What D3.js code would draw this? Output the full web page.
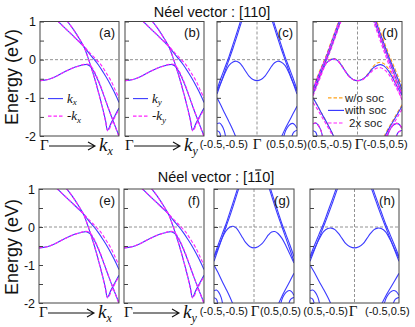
<!DOCTYPE html>
<html>
<head>
<meta charset="utf-8">
<script src="https://cdn.jsdelivr.net/npm/d3@7"></script>
<style>
body { margin: 0; background: #fff; }
svg { display: block; font-family: 'Liberation Sans', Arial, sans-serif; }
</style>
</head>
<body>
<div class="chart"></div>
<script>
// DATA ------------------------------

const energyTicks = [1, 0.5, 0, -0.5, -1, -1.5, -2];
const energyLabels = ['1', '', '0', '', '-1', '', '-2'];
const pathLabelsTop = [['(-0.5,-0.5)', 'Γ', '(0.5,0.5)'], ['(0.5,-0.5)', 'Γ', '(-0.5,0.5)']];
const pathLabelsBottom = [['(-0.5,-0.5)', 'Γ', '(0.5,0.5)'], ['(0.5,-0.5)', 'Γ', '(-0.5,0.5)']];
const legendAB = [['k', 'x'], ['-k', 'x'], ['k', 'y'], ['-k', 'y']];
const legendD = ['w/o soc', 'with soc', '2x soc'];

// Gamma -> k bands (k from 0 to 1), +k solid, -k dashed
const kBand1 = [[0.22,1.02],[0.3,0.86],[0.4,0.66],[0.5,0.46],[0.56,0.33],[0.62,0.17],[0.68,0.02],[0.74,-0.14],[0.8,-0.33],[0.87,-0.57],[0.94,-0.85],[1.0,-1.12]];
const kBand2 = [[0.34,1.02],[0.42,0.8],[0.5,0.54],[0.56,0.32],[0.6,0.1],[0.64,-0.15],[0.69,-0.48],[0.74,-0.85],[0.79,-1.25],[0.83,-1.6],[0.855,-1.85],[0.9,-1.66],[0.95,-1.46],[1.0,-1.27]];
const kBand3 = [[0,-0.55],[0.1,-0.52],[0.2,-0.44],[0.3,-0.33],[0.4,-0.23],[0.5,-0.16],[0.56,-0.13],[0.6,-0.13],[0.64,-0.18],[0.69,-0.34],[0.75,-0.62],[0.81,-0.95],[0.87,-1.3],[0.93,-1.63],[1.0,-2.0]];
const mkBand1 = [[0.22,1.02],[0.3,0.86],[0.4,0.66],[0.5,0.46],[0.56,0.34],[0.63,0.18],[0.7,0.03],[0.77,-0.13],[0.83,-0.32],[0.9,-0.56],[0.96,-0.83],[1.0,-1.0]];
const mkBand2 = [[0.34,1.02],[0.42,0.8],[0.5,0.54],[0.56,0.32],[0.6,0.1],[0.64,-0.15],[0.69,-0.48],[0.74,-0.86],[0.79,-1.26],[0.83,-1.62],[0.86,-1.87],[0.91,-1.66],[0.96,-1.45],[1.0,-1.3]];
const mkBand3 = [[0,-0.55],[0.1,-0.52],[0.2,-0.44],[0.3,-0.33],[0.4,-0.23],[0.5,-0.16],[0.56,-0.12],[0.61,-0.12],[0.65,-0.18],[0.7,-0.36],[0.76,-0.65],[0.82,-1.0],[0.88,-1.35],[0.94,-1.68],[1.0,-2.02]];

// (-0.5,-0.5) -> Gamma -> (0.5,0.5) bands
const cW = [[-0.5,-0.82],[-0.45,-0.6],[-0.4,-0.35],[-0.35,-0.15],[-0.3,-0.06],[-0.26,-0.04],[-0.22,-0.08],[-0.18,-0.18],[-0.14,-0.31],[-0.1,-0.43],[-0.05,-0.52],[0,-0.55],[0.05,-0.52],[0.1,-0.43],[0.14,-0.31],[0.18,-0.18],[0.22,-0.08],[0.26,-0.04],[0.3,-0.06],[0.35,-0.15],[0.4,-0.35],[0.45,-0.6],[0.5,-0.82]];
const gW = [[-0.5,-0.8],[-0.45,-0.56],[-0.4,-0.3],[-0.35,-0.1],[-0.3,0.0],[-0.26,0.02],[-0.22,-0.03],[-0.18,-0.15],[-0.14,-0.29],[-0.1,-0.42],[-0.05,-0.52],[0,-0.55],[0.05,-0.52],[0.1,-0.44],[0.14,-0.33],[0.18,-0.21],[0.22,-0.13],[0.26,-0.12],[0.3,-0.17],[0.35,-0.3],[0.4,-0.5],[0.45,-0.72],[0.5,-0.95]];
const hW = [[-0.5,-0.82],[-0.45,-0.58],[-0.4,-0.33],[-0.35,-0.13],[-0.3,-0.04],[-0.26,-0.03],[-0.22,-0.07],[-0.18,-0.17],[-0.14,-0.3],[-0.1,-0.43],[-0.05,-0.52],[0,-0.55],[0.05,-0.52],[0.1,-0.43],[0.14,-0.3],[0.18,-0.17],[0.22,-0.07],[0.26,-0.03],[0.3,-0.04],[0.35,-0.13],[0.4,-0.33],[0.45,-0.58],[0.5,-0.82]];
const cPL1 = [[-0.5,-0.78],[-0.45,-0.48],[-0.4,-0.2],[-0.35,0.08],[-0.3,0.4],[-0.25,0.72],[-0.2,1.05],[-0.17,1.25]];
const cPL2 = [[-0.5,-0.9],[-0.45,-0.6],[-0.4,-0.3],[-0.35,0.0],[-0.3,0.3],[-0.25,0.62],[-0.2,0.95],[-0.16,1.2]];
const cPR1 = [[0.17,1.25],[0.2,1.05],[0.25,0.72],[0.3,0.4],[0.35,0.08],[0.4,-0.2],[0.45,-0.48],[0.5,-0.78]];
const cPR2 = [[0.16,1.2],[0.2,0.95],[0.25,0.62],[0.3,0.3],[0.35,0.0],[0.4,-0.3],[0.45,-0.6],[0.5,-0.9]];
const cLL = [[-0.5,-1.0],[-0.45,-1.2],[-0.4,-1.42],[-0.35,-1.63],[-0.3,-1.85],[-0.26,-2.05]];
const cLR = [[0.5,-1.22],[0.45,-1.42],[0.4,-1.62],[0.35,-1.82],[0.3,-2.05]];
const cDL = [[-0.5,-1.68],[-0.47,-1.66],[-0.44,-1.72],[-0.41,-1.86],[-0.39,-2.05]];
const cDL2 = [[-0.5,-1.86],[-0.47,-1.9],[-0.45,-2.05]];
const cDR = [[0.33,-2.05],[0.36,-1.85],[0.4,-1.72],[0.44,-1.67],[0.47,-1.7],[0.5,-1.8]];
const cDR2 = [[0.43,-2.05],[0.46,-1.9],[0.5,-1.85]];

// panel (d): w/o soc, with soc, 2x soc
const dWOrange = [[-0.5,-0.78],[-0.45,-0.54],[-0.4,-0.28],[-0.35,-0.08],[-0.3,0.01],[-0.26,0.03],[-0.22,-0.02],[-0.18,-0.14],[-0.14,-0.29],[-0.1,-0.42],[-0.05,-0.52],[0,-0.55],[0.05,-0.52],[0.1,-0.42],[0.14,-0.3],[0.18,-0.17],[0.22,-0.09],[0.26,-0.07],[0.3,-0.11],[0.35,-0.24],[0.4,-0.43],[0.45,-0.63],[0.5,-0.82]];
const dWBlue = [[-0.5,-0.8],[-0.45,-0.55],[-0.4,-0.29],[-0.35,-0.09],[-0.3,0.0],[-0.26,0.02],[-0.22,-0.03],[-0.18,-0.15],[-0.14,-0.29],[-0.1,-0.42],[-0.05,-0.52],[0,-0.55],[0.05,-0.52],[0.1,-0.43],[0.14,-0.32],[0.18,-0.21],[0.22,-0.15],[0.26,-0.13],[0.3,-0.17],[0.35,-0.3],[0.4,-0.5],[0.45,-0.72],[0.5,-0.93]];
const dWMag = [[-0.5,-0.82],[-0.45,-0.57],[-0.4,-0.31],[-0.35,-0.1],[-0.3,-0.01],[-0.26,0.01],[-0.22,-0.04],[-0.18,-0.16],[-0.14,-0.3],[-0.1,-0.43],[-0.05,-0.52],[0,-0.55],[0.05,-0.53],[0.1,-0.45],[0.14,-0.36],[0.18,-0.27],[0.22,-0.22],[0.26,-0.21],[0.3,-0.26],[0.35,-0.38],[0.4,-0.58],[0.45,-0.8],[0.5,-1.03]];
const dPR1Or = [[0.18,1.25],[0.21,1.05],[0.26,0.72],[0.31,0.4],[0.36,0.1],[0.41,-0.18],[0.46,-0.46],[0.5,-0.7]];
const dPR2Or = [[0.17,1.2],[0.21,0.95],[0.26,0.63],[0.31,0.32],[0.36,0.02],[0.41,-0.27],[0.46,-0.57],[0.5,-0.82]];
const dPR1Mag = [[0.16,1.25],[0.19,1.05],[0.24,0.72],[0.29,0.38],[0.34,0.05],[0.39,-0.25],[0.44,-0.56],[0.5,-0.92]];
const dPR2Mag = [[0.15,1.2],[0.19,0.93],[0.24,0.6],[0.29,0.27],[0.34,-0.05],[0.39,-0.36],[0.44,-0.68],[0.5,-1.06]];
const dPL1Or = [[-0.5,-0.74],[-0.45,-0.44],[-0.4,-0.16],[-0.35,0.12],[-0.3,0.44],[-0.25,0.76],[-0.2,1.08],[-0.17,1.28]];
const dPL2Mag = [[-0.5,-0.95],[-0.45,-0.66],[-0.4,-0.36],[-0.35,-0.05],[-0.3,0.26],[-0.25,0.58],[-0.2,0.91],[-0.15,1.22]];
const dLLMag = [[-0.5,-1.12],[-0.45,-1.3],[-0.4,-1.5],[-0.35,-1.7],[-0.3,-1.9],[-0.27,-2.05]];
const dLRMag = [[0.5,-1.3],[0.45,-1.5],[0.4,-1.7],[0.35,-1.88],[0.31,-2.05]];
const dLROr = [[0.5,-1.18],[0.45,-1.38],[0.4,-1.58],[0.35,-1.78],[0.3,-2.0],[0.29,-2.05]];

// CHART INIT ------------------------------

const width = 415, height = 327;
const blue = '#3a3aff', magenta = '#ff22ff', orange = '#ffa31a';

let svg = d3
    .select('.chart')
    .append('svg')
    .attr('width', width)
    .attr('height', height);

const rows = [{ top: 21.5, bottom: 136 }, { top: 189, bottom: 303 }];

const kSolid = [kBand1, kBand2, kBand3];
const kDashed = [mkBand1, mkBand2, mkBand3];
const cRest = [cPL1, cPL2, cPR1, cPR2, cLL, cLR, cDL, cDL2, cDR, cDR2];

const panels = [
    { id: 'a', row: 0, x0: 40, x1: 119, domain: [0, 1], labels: true, legend: [legendAB[0], legendAB[1]],
      series: [{ bands: kSolid, color: blue }, { bands: kDashed, color: magenta, dash: '3.5,2' }] },
    { id: 'b', row: 0, x0: 125, x1: 204, domain: [0, 1], legend: [legendAB[2], legendAB[3]],
      series: [{ bands: kSolid, color: blue }, { bands: kDashed, color: magenta, dash: '3.5,2' }] },
    { id: 'c', row: 0, x0: 217, x1: 297, domain: [-0.5, 0.5],
      series: [{ bands: [cW].concat(cRest), color: blue }] },
    { id: 'd', row: 0, x0: 313, x1: 402, domain: [-0.5, 0.5],
      series: [
        { bands: [dWOrange, dPL1Or, cPL2, dPR1Or, dPR2Or, cLL, dLROr, cDL, cDR], color: orange, dash: '3.5,2' },
        { bands: [dWBlue].concat(cRest), color: blue },
        { bands: [dWMag, cPL1, dPL2Mag, dPR1Mag, dPR2Mag, dLLMag, dLRMag, cDL, cDR, cDR2], color: magenta, dash: '3.5,2' }
      ] },
    { id: 'e', row: 1, x0: 39, x1: 119, domain: [0, 1], labels: true,
      series: [{ bands: kSolid, color: blue }, { bands: kDashed, color: magenta, dash: '3.5,2' }] },
    { id: 'f', row: 1, x0: 124, x1: 204, domain: [0, 1],
      series: [{ bands: kSolid, color: blue }, { bands: kDashed, color: magenta, dash: '3.5,2' }] },
    { id: 'g', row: 1, x0: 214, x1: 294, domain: [-0.5, 0.5],
      series: [{ bands: [gW].concat(cRest), color: blue }] },
    { id: 'h', row: 1, x0: 310, x1: 399, domain: [-0.5, 0.5],
      series: [{ bands: [hW].concat(cRest), color: blue }] }
];

// PANEL DRAW FUNCTION -------------------
function drawPanel(p) {
    const r = rows[p.row];
    const yScale = d3.scaleLinear().domain([-2, 1]).range([r.bottom, r.top]);
    const xScale = d3.scaleLinear().domain(p.domain).range([p.x0, p.x1]);
    const g = svg.append('g').attr('class', 'panel-' + p.id);

    svg.append('clipPath')
        .attr('id', 'clip-' + p.id)
        .append('rect')
        .attr('x', p.x0)
        .attr('y', r.top)
        .attr('width', p.x1 - p.x0)
        .attr('height', r.bottom - r.top);

    // dashed guides
    g.append('line')
        .attr('x1', p.x0).attr('x2', p.x1)
        .attr('y1', yScale(0)).attr('y2', yScale(0))
        .attr('stroke', '#777').attr('stroke-width', 0.8)
        .attr('stroke-dasharray', '3,2');
    if (p.domain[0] < 0) {
        g.append('line')
            .attr('x1', xScale(0)).attr('x2', xScale(0))
            .attr('y1', r.top).attr('y2', r.bottom)
            .attr('stroke', '#777').attr('stroke-width', 0.8)
            .attr('stroke-dasharray', '3,2');
    }

    const line = d3.line()
        .x(d => xScale(d[0]))
        .y(d => yScale(d[1]))
        .curve(d3.curveCatmullRom.alpha(0.5));

    const plot = g.append('g').attr('clip-path', `url(#clip-${p.id})`);
    p.series.forEach(s => {
        plot.selectAll(null)
            .data(s.bands)
            .enter()
            .append('path')
            .attr('d', line)
            .attr('fill', 'none')
            .attr('stroke', s.color)
            .attr('stroke-width', 1.1)
            .attr('stroke-dasharray', s.dash || null);
    });

    // energy axis, ticks pointing inside
    const yAxis = d3.axisLeft(yScale)
        .tickValues(energyTicks)
        .tickSize(-4)
        .tickPadding(4)
        .tickFormat((d, i) => p.labels ? energyLabels[i] : '');
    const ax = g.append('g')
        .attr('transform', `translate(${p.x0},0)`)
        .call(yAxis);
    ax.select('.domain').remove();
    ax.selectAll('line').attr('stroke', '#444');
    ax.selectAll('text')
        .attr('font-size', 12.5)
        .attr('font-family', "'Liberation Sans', Arial, sans-serif")
        .attr('fill', '#111');

    g.append('rect')
        .attr('x', p.x0).attr('y', r.top)
        .attr('width', p.x1 - p.x0).attr('height', r.bottom - r.top)
        .attr('fill', 'none')
        .attr('stroke', '#444')
        .attr('stroke-width', 1);

    g.append('text')
        .attr('x', p.x1 - 4)
        .attr('y', r.top + 15.5)
        .attr('text-anchor', 'end')
        .attr('font-size', 13)
        .attr('fill', '#111')
        .text('(' + p.id + ')');

    // legend for (a) and (b)
    if (p.legend) {
        p.legend.forEach((lg, i) => {
            const ly = yScale(i === 0 ? -1.02 : -1.48);
            g.append('line')
                .attr('x1', p.x0 + 8).attr('x2', p.x0 + 23)
                .attr('y1', ly).attr('y2', ly)
                .attr('stroke', i === 0 ? blue : magenta)
                .attr('stroke-width', 1.1)
                .attr('stroke-dasharray', i === 0 ? null : '3.5,2');
            const t = g.append('text')
                .attr('x', p.x0 + 27)
                .attr('y', ly + 4)
                .attr('font-family', "'Liberation Serif', 'Times New Roman', serif")
                .attr('font-style', 'italic')
                .attr('font-size', 13)
                .attr('fill', '#111');
            t.append('tspan').text(lg[0]);
            t.append('tspan').attr('font-size', 9).attr('dy', 2.5).text(lg[1]);
        });
    }

    // x labels
    const by = p.row === 0 ? 150 : 317;
    if (p.domain[0] === 0) {
        const axisName = (p.id === 'a' || p.id === 'e') ? 'x' : 'y';
        g.append('text')
            .attr('x', p.x0)
            .attr('y', by)
            .attr('font-family', "'Liberation Serif', 'Times New Roman', serif")
            .attr('font-size', 15)
            .attr('fill', '#111')
            .text('Γ');
        const ay = by - 4;
        const ax0 = p.x0 + 9, ax1 = p.x0 + 55;
        g.append('path')
            .attr('d', `M${ax0},${ay}L${ax1},${ay}M${ax1 - 7},${ay - 4}L${ax1},${ay}L${ax1 - 7},${ay + 4}`)
            .attr('fill', 'none')
            .attr('stroke', '#111')
            .attr('stroke-width', 1.1);
        const kt = g.append('text')
            .attr('x', p.x0 + 59)
            .attr('y', by + 1)
            .attr('font-family', "'Liberation Serif', 'Times New Roman', serif")
            .attr('font-style', 'italic')
            .attr('font-size', 19)
            .attr('fill', '#111');
        kt.append('tspan').text('k');
        kt.append('tspan').attr('font-size', 12).attr('dy', 4).text(axisName);
    } else {
        const labs = p.row === 0 ? pathLabelsTop[p.id === 'c' ? 0 : 1] : pathLabelsBottom[p.id === 'g' ? 0 : 1];
        const pos = {
            c: [248, 257, 266], d: [352, 359, 363],
            g: [248, 255, 260], h: [348, 353, 365]
        }[p.id];
        g.append('text').attr('x', pos[0]).attr('y', by - 2.5)
            .attr('text-anchor', 'end').attr('font-size', 11).attr('fill', '#111').text(labs[0]);
        g.append('text').attr('x', pos[1]).attr('y', by - 1.5)
            .attr('text-anchor', 'middle')
            .attr('font-family', "'Liberation Serif', 'Times New Roman', serif")
            .attr('font-size', 15).attr('fill', '#111').text(labs[1]);
        g.append('text').attr('x', pos[2]).attr('y', by - 2.5)
            .attr('font-size', 11).attr('fill', '#111').text(labs[2]);
    }

    // legend for (d)
    if (p.id === 'd') {
        const cols = [orange, blue, magenta];
        legendD.forEach((name, i) => {
            const ly = yScale([-1.0, -1.33, -1.66][i]);
            g.append('line')
                .attr('x1', 328).attr('x2', 344)
                .attr('y1', ly).attr('y2', ly)
                .attr('stroke', cols[i])
                .attr('stroke-width', 1.2)
                .attr('stroke-dasharray', i === 1 ? null : '3.5,2');
            g.append('text')
                .attr('x', i === 2 ? 349 : 345)
                .attr('y', ly + 4)
                .attr('font-size', 11.5)
                .attr('fill', '#222')
                .text(name);
        });
    }
}

panels.forEach(drawPanel);

// titles and y labels
svg.append('text')
    .attr('x', 212).attr('y', 17)
    .attr('text-anchor', 'middle')
    .attr('font-size', 14.5)
    .attr('fill', '#111')
    .text('Néel vector : [110]');

const t2 = svg.append('text')
    .attr('x', 216).attr('y', 182)
    .attr('text-anchor', 'middle')
    .attr('font-size', 14.5)
    .attr('fill', '#111')
    .text('Néel vector : [110]');
const bar = t2.node().getExtentOfChar(16);
svg.append('line')
    .attr('x1', bar.x + 1).attr('x2', bar.x + bar.width - 1)
    .attr('y1', bar.y + 1).attr('y2', bar.y + 1)
    .attr('stroke', '#111').attr('stroke-width', 1.1);

[77, 247].forEach(cy => {
    svg.append('text')
        .attr('transform', `translate(17.5,${cy}) rotate(-90)`)
        .attr('text-anchor', 'middle')
        .attr('font-size', 18)
        .attr('fill', '#111')
        .text('Energy (eV)');
});
</script>
</body>
</html>
